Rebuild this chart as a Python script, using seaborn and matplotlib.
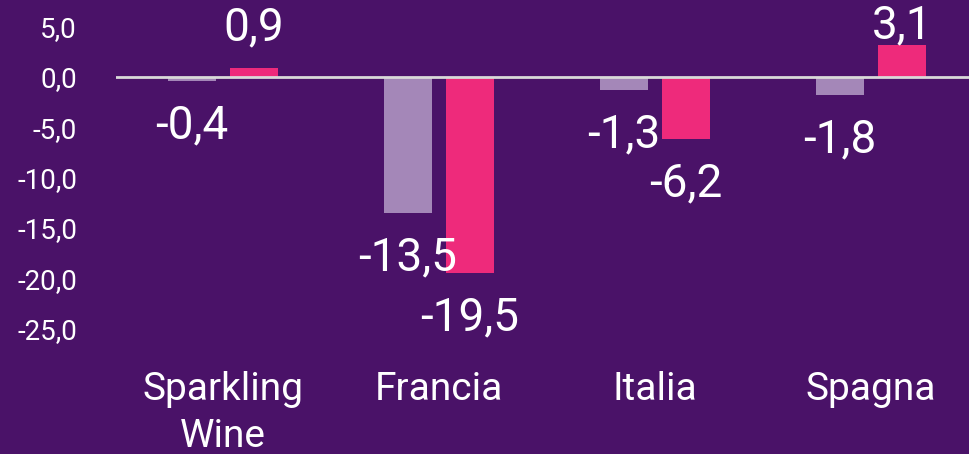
import pandas as pd
import numpy as np
import matplotlib.pyplot as plt
import seaborn as sns

# data
categories = ['Sparkling\nWine', 'Francia', 'Italia', 'Spagna']
series_names = ['A', 'B']
values_a = [-0.4, -13.5, -1.3, -1.8]
values_b = [0.9, -19.5, -6.2, 3.1]
yticks = [5, 0, -5, -10, -15, -20, -25]

bg = '#4a1268'
col_a = '#a487b8'
col_b = '#ee2a7b'
fonts = ['Roboto', 'DejaVu Sans']

df = pd.DataFrame({
    'cat': categories * 2,
    'serie': [series_names[0]] * 4 + [series_names[1]] * 4,
    'val': values_a + values_b,
})

plt.rcParams['font.family'] = fonts
fig = plt.figure(figsize=(9.7, 4.54), dpi=100, facecolor=bg)
ax = fig.add_axes([116 / 970, 1 - 340 / 454, 1 - 116 / 970, 340 / 454])
ax.set_facecolor(bg)

sns.barplot(data=df, x='cat', y='val', hue='serie', order=categories,
            hue_order=series_names, palette=[col_a, col_b],
            width=0.574, gap=0.226, legend=False, ax=ax, saturation=1)

ax.axhline(0, color='#d9d9d9', lw=2, zorder=3)
ax.set_xlim(-0.495, 3.458)
ax.set_ylim(-26.1, 7.6)
ax.set_yticks(yticks)
ax.set_yticklabels([f'{t:.1f}'.replace('.', ',') for t in yticks])
ax.tick_params(axis='y', length=0, pad=28, labelsize=20, labelcolor='white')
ax.tick_params(axis='x', length=0, pad=22, labelsize=28, labelcolor='white')
for lab in ax.get_xticklabels():
    lab.set_linespacing(1.35)
ax.set_xlabel('')
ax.set_ylabel('')
for s in ax.spines.values():
    s.set_visible(False)

# value labels
label_top = 5.1
for cont in ax.containers:
    for p in cont:
        v = p.get_height()
        x = p.get_x() + p.get_width() / 2
        if v < 0:
            y = v - 4.4
        else:
            y = min(v + 4.0, label_top)
        ax.text(x, y, f'{v:.1f}'.replace('.', ','), ha='center', va='center',
                color='white', fontsize=33, zorder=4, clip_on=False)

fig.savefig('out.png', dpi=100, facecolor=bg)
